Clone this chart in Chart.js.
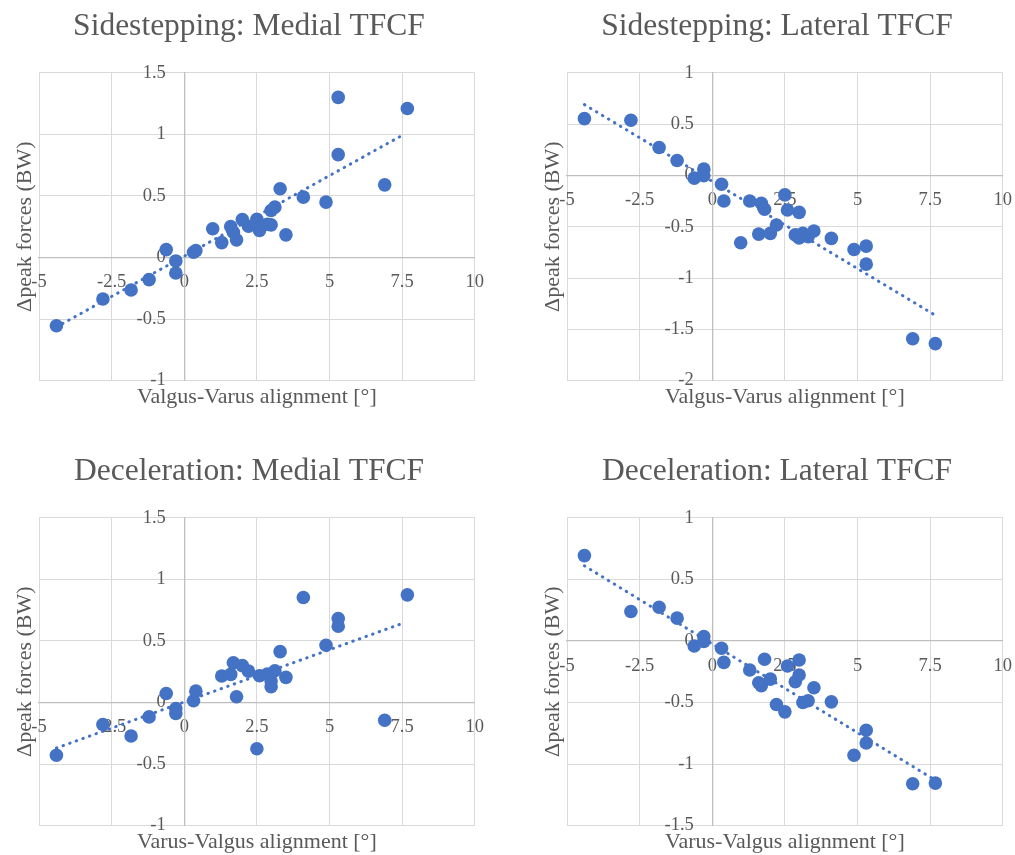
<!DOCTYPE html>
<html>
<head>
<meta charset="utf-8">
<script src="https://cdn.jsdelivr.net/npm/chart.js@4"></script>
<style>
  html, body { margin: 0; background: #fff; overflow: hidden; width: 1015px; height: 855px; }
  .panel { position: absolute; width: 498px; height: 410px; }
</style>
</head>
<body>
<div class="panel" style="left:0;top:0"><canvas id="c1"></canvas></div>
<div class="panel" style="left:528px;top:0"><canvas id="c2"></canvas></div>
<div class="panel" style="left:0;top:445px"><canvas id="c3"></canvas></div>
<div class="panel" style="left:528px;top:445px"><canvas id="c4"></canvas></div>
<script>
// alignment of each subject (deg), shared by the four panels
const alignment = [-4.4, -2.8, -1.83, -1.21, -0.62, -0.29, -0.29, 0.32, 0.4, 0.98,
  1.29, 1.6, 1.69, 1.8, 2.0, 2.21, 2.5, 2.59, 2.86, 2.99,
  2.99, 3.12, 3.3, 3.5, 4.1, 4.88, 5.3, 5.3, 6.9, 7.68];

// delta peak forces (BW) per panel
const sideMedial = [-0.555, -0.337, -0.264, -0.18, 0.064, -0.028, -0.126, 0.043, 0.056, 0.233,
  0.121, 0.251, 0.205, 0.143, 0.308, 0.254, 0.31, 0.219, 0.27, 0.265,
  0.382, 0.409, 0.558, 0.184, 0.49, 0.45, 1.3, 0.835, 0.59, 1.21];
const sideLateral = [0.553, 0.537, 0.272, 0.145, -0.027, 0.061, -0.004, -0.086, -0.249, -0.657,
  -0.249, -0.572, -0.272, -0.33, -0.565, -0.484, -0.19, -0.337, -0.58, -0.36,
  -0.61, -0.565, -0.598, -0.542, -0.614, -0.722, -0.689, -0.865, -1.592, -1.64];
const decelMedial = [-0.429, -0.179, -0.272, -0.117, 0.073, -0.049, -0.09, 0.014, 0.092, null,
  0.215, 0.228, 0.323, 0.046, 0.299, 0.255, -0.376, 0.217, 0.231, 0.174,
  0.128, 0.258, 0.413, 0.204, 0.853, 0.465, 0.682, 0.62, -0.144, 0.874];
const decelLateral = [0.693, 0.239, 0.274, 0.185, -0.041, 0.035, -0.005, -0.06, -0.174, null,
  -0.236, -0.34, -0.364, -0.149, -0.31, -0.516, -0.576, -0.204, -0.332, -0.277,
  -0.155, -0.5, -0.486, -0.38, -0.495, -0.929, -0.726, -0.829, -1.16, -1.155];

// trendline end points
const trendX = [-4.4, 7.6];
const sideMedialTrend = [-0.565, 1.005];
const sideLateralTrend = [0.69, -1.35];
const decelMedialTrend = [-0.37, 0.65];
const decelLateralTrend = [0.61, -1.12];

const xTicks = [-5, -2.5, 0, 2.5, 5, 7.5, 10];

const BLUE = "#4472c4";
const TEXT = "#595959";
const SERIF = "'Liberation Serif', 'Times New Roman', serif";

function pairs(xs, ys) {
  return xs.map((x, i) => ({ x: x, y: ys[i] }));
}

function makeChart(id, title, xTitle, ys, trend, yMin, yMax) {
  new Chart(document.getElementById(id), {
    type: "scatter",
    data: {
      datasets: [
        {
          data: pairs(trendX, trend),
          showLine: true, pointRadius: 0,
          borderColor: BLUE, borderWidth: 3,
          borderDash: [0.5, 6.5], borderCapStyle: "round",
          xAxisID: "x", yAxisID: "y"
        },
        {
          data: pairs(alignment, ys),
          backgroundColor: BLUE, borderWidth: 0,
          pointRadius: 6.8, pointHoverRadius: 6.8,
          xAxisID: "x", yAxisID: "y"
        }
      ]
    },
    options: {
      responsive: true, maintainAspectRatio: false, animation: false,
      layout: { padding: { left: 0, right: 0, top: 0, bottom: 0 } },
      plugins: {
        legend: { display: false },
        tooltip: { enabled: false },
        title: {
          display: true, text: title, color: TEXT,
          font: { family: SERIF, size: 31.5, weight: "normal" },
          padding: { top: 8, bottom: 27 }
        }
      },
      scales: {
        x: {
          type: "linear", min: -5, max: 10,
          position: { y: 0 },
          afterBuildTicks: s => { s.ticks = xTicks.map(v => ({ value: v })); },
          ticks: { color: TEXT, font: { family: SERIF, size: 18.5 }, padding: 14,
            maxRotation: 0, callback: v => String(v) },
          grid: { color: "#d9d9d9", drawTicks: false },
          border: { color: "#bfbfbf", width: 1.3 }
        },
        y: {
          type: "linear", min: yMin, max: yMax,
          position: { x: 0 },
          // labels sit right-aligned on the zero line, the spaces give the gap
          ticks: { stepSize: 0.5, color: TEXT, font: { family: SERIF, size: 18.5 },
            callback: v => String(v) + "    " },
          grid: { color: "#d9d9d9", drawTicks: false },
          border: { color: "#bfbfbf", width: 1.3 }
        },
        x2: {
          type: "linear", min: -5, max: 10, position: "bottom",
          ticks: { display: false },
          grid: { display: false, drawTicks: false },
          border: { display: false },
          title: { display: true, text: xTitle, color: TEXT,
            font: { family: SERIF, size: 22 }, padding: { top: 3, bottom: 0 } }
        },
        y2: {
          type: "linear", min: yMin, max: yMax, position: "left",
          ticks: { display: false },
          grid: { display: false, drawTicks: false },
          border: { display: false },
          title: { display: true, text: "\u0394peak forces (BW)", color: TEXT,
            font: { family: SERIF, size: 22 }, padding: { top: 12, bottom: 0.6 } }
        }
      }
    }
  });
}

makeChart("c1", "Sidestepping: Medial TFCF", "Valgus-Varus alignment [\u00b0]", sideMedial, sideMedialTrend, -1, 1.5);
makeChart("c2", "Sidestepping: Lateral TFCF", "Valgus-Varus alignment [\u00b0]", sideLateral, sideLateralTrend, -2, 1);
makeChart("c3", "Deceleration: Medial TFCF", "Varus-Valgus alignment [\u00b0]", decelMedial, decelMedialTrend, -1, 1.5);
makeChart("c4", "Deceleration: Lateral TFCF", "Varus-Valgus alignment [\u00b0]", decelLateral, decelLateralTrend, -1.5, 1);
</script>
</body>
</html>
